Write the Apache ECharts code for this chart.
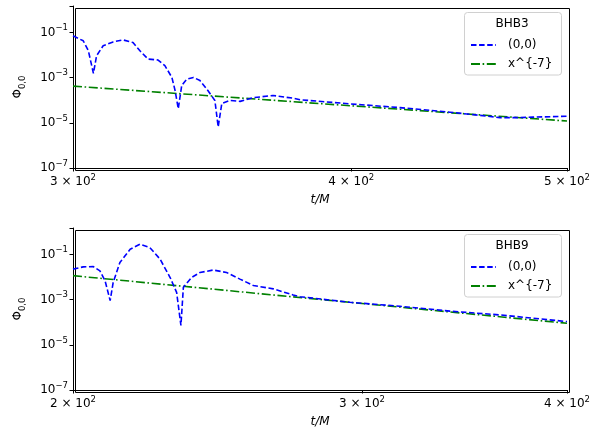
<!DOCTYPE html>
<html>
<head>
<meta charset="utf-8">
<script src="https://cdn.jsdelivr.net/npm/echarts@6/dist/echarts.min.js"></script>
<style>html,body{margin:0;padding:0;background:#fff}#c{width:601px;height:430px}</style>
</head>
<body>
<div id="c"></div>
<script>
// ---- data ----
const bhb3T = [300, 303.2, 304.8, 306.4, 307.4, 309.5, 312.7, 315.9, 319.2, 321.5, 324.2, 327.6, 329.9, 332.3, 333.4, 334.5, 335.7, 337.4, 339.8, 342.1, 344.9, 347.4, 348.6, 349.9, 352.9, 356.6, 361.4, 368.9, 376.6, 379.4, 399.5, 420.7, 443, 457, 466.5, 474.8, 482.7, 500];
const bhb3Phi = [0.0708, 0.0427, 0.0155, 0.00155, 0.0093, 0.0257, 0.038, 0.0468, 0.0355, 0.0155, 0.0066, 0.006, 0.0034, 0.00102, 2.7e-4, 4.2e-5, 4.5e-4, 8.5e-4, 1.02e-3, 7.4e-4, 2.7e-4, 9.8e-5, 6.6e-6, 7.1e-5, 9.8e-5, 8.9e-5, 1.29e-4, 1.62e-4, 1.23e-4, 1.05e-4, 6.9e-5, 4.7e-5, 2.95e-5, 2.14e-5, 1.7e-5, 1.7e-5, 1.78e-5, 1.95e-5];
const bhb3PowT = [300, 500];
const bhb3PowPhi = [4.2e-4, 1.2e-5];

const bhb9T = [200, 202.9, 205.8, 207.7, 209.2, 210.7, 211.6, 213.6, 216.7, 219.7, 222.8, 226, 229.2, 231.3, 232.7, 233.5, 236.2, 239, 243.5, 248.1, 252.8, 257.6, 264.9, 272.4, 275, 295, 316.4, 339.4, 364.1, 400];
const bhb9Phi = [0.0224, 0.0282, 0.0288, 0.0186, 0.0069, 9.1e-4, 0.0058, 0.0437, 0.17, 0.282, 0.2, 0.0617, 0.0095, 0.0021, 7.2e-5, 0.0035, 0.0095, 0.0158, 0.0204, 0.0158, 0.0081, 0.0042, 0.003, 0.0016, 1.35e-3, 7.6e-4, 5.1e-4, 3.1e-4, 2.1e-4, 1.07e-4];
const bhb9PowT = [200, 400];
const bhb9PowPhi = [1.15e-2, 9.0e-5];

const titles = ['BHB3', 'BHB9'];
const seriesNames = ['(0,0)', 'x^{-7}'];
const xRanges = [[300, 500], [200, 400]];
const xTickRatios = [4 / 3, 3 / 2];
const yMin = 1e-7, yMaxExp = 0.17;

// ---- helpers ----
const FONT = 'DejaVu Sans';
const zip = (a, b) => a.map((v, i) => [v, b[i]]);
const richNum = {
  b: { fontFamily: FONT, fontSize: 12, color: '#000', lineHeight: 18 },
  s: { fontFamily: FONT, fontSize: 8.5, color: '#000', lineHeight: 11, verticalAlign: 'top' }
};
function yLabel(v) {
  const e = Math.log10(v);
  const r = Math.round(e);
  if (Math.abs(e - r) > 1e-6) return '';
  return '{b|10}{s|' + (r < 0 ? '\u2212' + (-r) : r) + '}';
}
function xLabel(v) {
  const m = Math.round(v / 100);
  return '{b|' + m + ' \u00d7 10}{s|2}';
}

const grids = [
  { left: 73, right: 34, top: 6, height: 162 },
  { left: 73, right: 34, top: 228, height: 162 }
];
const xAxes = [], yAxes = [], series = [], legends = [], graphics = [];
const lineData = [[bhb3T, bhb3Phi, bhb3PowT, bhb3PowPhi], [bhb9T, bhb9Phi, bhb9PowT, bhb9PowPhi]];
const boxTops = [12, 234];

for (let i = 0; i < 2; i++) {
  xAxes.push({
    type: 'log', gridIndex: i, logBase: 10,
    min: xRanges[i][0], max: xRanges[i][1],
    interval: Math.log10(xTickRatios[i]),
    name: 't/M', nameLocation: 'middle', nameGap: 26,
    nameTextStyle: { fontFamily: FONT, fontSize: 12, fontStyle: 'italic', color: '#000' },
    axisLine: { show: true, onZero: false, lineStyle: { color: '#000', width: 1 } },
    axisTick: { show: true, length: 3.5, lineStyle: { color: '#000' } },
    axisLabel: { margin: 5, formatter: xLabel, rich: richNum, hideOverlap: false, showMinLabel: true, showMaxLabel: true },
    splitLine: { show: false }, minorTick: { show: false }
  });
  yAxes.push({
    type: 'log', gridIndex: i, logBase: 10,
    min: yMin, max: Math.pow(10, yMaxExp), interval: 2,
    name: '{a|\u03a6}{c|0,0}', nameLocation: 'middle', nameGap: 46, nameRotate: 90,
    nameTextStyle: {
      rich: {
        a: { fontFamily: FONT, fontSize: 12, color: '#000', lineHeight: 18 },
        c: { fontFamily: FONT, fontSize: 8.5, color: '#000', lineHeight: 10, verticalAlign: 'bottom' }
      }
    },
    axisLine: { show: true, onZero: false, lineStyle: { color: '#000', width: 1 } },
    axisTick: { show: true, length: 3.5, lineStyle: { color: '#000' } },
    axisLabel: { margin: 5, formatter: yLabel, rich: richNum, showMinLabel: true, showMaxLabel: true },
    splitLine: { show: false }, minorTick: { show: false }
  });
  const [t, p, pt, pp] = lineData[i];
  series.push({
    type: 'line', name: seriesNames[0], xAxisIndex: i, yAxisIndex: i,
    data: zip(t, p), symbol: 'none', z: 3,
    lineStyle: { color: '#0000ff', width: 1.6, type: [5.5, 2.6] },
    itemStyle: { color: '#0000ff' }
  });
  series.push({
    type: 'line', name: seriesNames[1], xAxisIndex: i, yAxisIndex: i,
    data: zip(pt, pp), symbol: 'none', z: 2,
    lineStyle: { color: '#008000', width: 1.6, type: [9, 2.6, 1.6, 2.6] },
    itemStyle: { color: '#008000' }
  });
  const bt = boxTops[i];
  legends.push({
    orient: 'vertical', left: 470, top: bt + 26, padding: 0,
    data: seriesNames, itemWidth: 25, itemHeight: 14, itemGap: 5,
    z: 10, selectedMode: false,
    itemStyle: { opacity: 0 },
    textStyle: { fontFamily: FONT, fontSize: 12, color: '#000', lineHeight: 14, padding: [0, 0, 0, 7] }
  });
  graphics.push({
    type: 'rect', left: 464, top: bt, z: 5,
    shape: { width: 97, height: 62.5, r: 3 },
    style: { fill: 'rgba(255,255,255,0.8)', stroke: '#d0d0d0', lineWidth: 1 }
  });
  graphics.push({
    type: 'text', x: 512, y: bt + 12, z: 11,
    style: { text: titles[i], fontFamily: FONT, fontSize: 12, fill: '#000', align: 'center', verticalAlign: 'middle' }
  });
  // frame (top and right sides)
  graphics.push({
    type: 'rect', left: 73, top: grids[i].top, z: 1, silent: true,
    shape: { width: 494, height: 162 },
    style: { fill: 'none', stroke: '#000', lineWidth: 1 }
  });
}

const chart = echarts.init(document.getElementById('c'), null, { renderer: 'canvas' });
chart.setOption({
  animation: false,
  backgroundColor: '#fff',
  grid: grids,
  xAxis: xAxes,
  yAxis: yAxes,
  series: series,
  legend: legends,
  graphic: graphics
});
</script>
</body>
</html>
